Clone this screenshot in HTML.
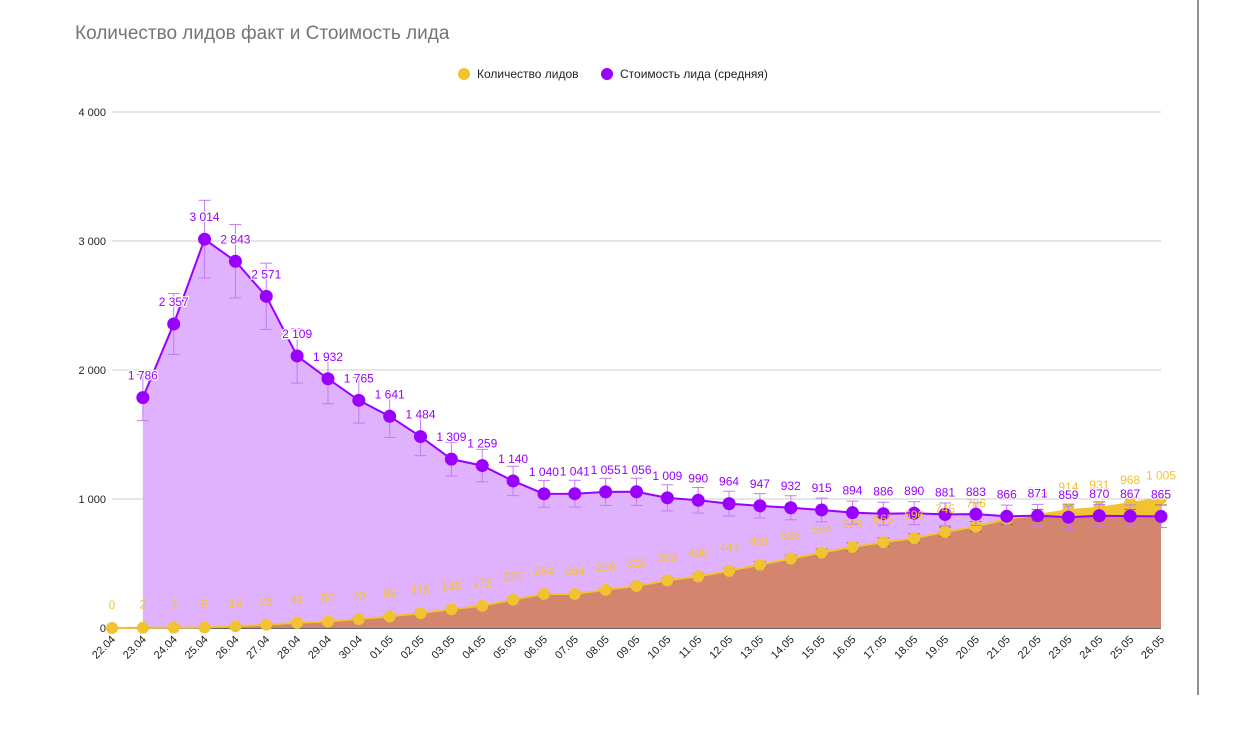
<!DOCTYPE html>
<html><head><meta charset="utf-8"><style>
body{margin:0;background:#fff;font-family:"Liberation Sans",sans-serif}
svg text{font-family:"Liberation Sans",sans-serif}
</style></head><body>
<svg width="1239" height="744" id="svg">
<rect width="1239" height="744" fill="#fff"/>
<text x="75" y="39" font-size="19" fill="#757575">Количество лидов факт и Стоимость лида</text>
<g font-size="12" fill="#222">
<g><circle cx="464" cy="74" r="6" fill="#f1c232"/><text x="477" y="78">Количество лидов</text></g>
<g><circle cx="607" cy="74" r="6" fill="#9900ff"/><text x="620" y="78">Стоимость лида (средняя)</text></g>
</g>
<line x1="1198" y1="0" x2="1198" y2="695" stroke="#222"/>
<g id="grid"></g><g id="areas"></g><g id="marks"></g><g id="labels"></g><g id="xaxis"></g>
</svg>
<script>
const categories=["22.04","23.04","24.04","25.04","26.04","27.04","28.04","29.04","30.04","01.05","02.05","03.05","04.05","05.05","06.05","07.05","08.05","09.05","10.05","11.05","12.05","13.05","14.05","15.05","16.05","17.05","18.05","19.05","20.05","21.05","22.05","23.05","24.05","25.05","26.05"];
const leads=[0,2,3,5,14,26,41,50,70,89,115,145,172,220,264,264,296,326,369,400,443,491,538,584,629,665,696,745,786,845,876,914,931,968,1005];
const cost=[null,1786,2357,3014,2843,2571,2109,1932,1765,1641,1484,1309,1259,1140,1040,1041,1055,1056,1009,990,964,947,932,915,894,886,890,881,883,866,871,859,870,867,865];
const yTicks=[0,1000,2000,3000,4000];
const yTickLabels=["0","1 000","2 000","3 000","4 000"];
const NS="http://www.w3.org/2000/svg";
const X0=112,X1=1161,Y0=628,YT=112,YMAX=4000;
const xs=i=>X0+(X1-X0)*i/(categories.length-1);
const ys=v=>Y0-(Y0-YT)*v/YMAX;
const fmt=v=>{const s=String(v);return s.length>3?s.slice(0,-3)+" "+s.slice(-3):s;};
function mk(tag,attrs,parent,txt){const e=document.createElementNS(NS,tag);for(const k in attrs)e.setAttribute(k,attrs[k]);if(txt!=null)e.textContent=txt;document.getElementById(parent).appendChild(e);return e;}
yTicks.forEach((t,i)=>{
 const l=mk("line",{x1:X0,x2:X1,y1:ys(t),y2:ys(t),stroke:t===0?"#333":"#ccc","stroke-width":t===0?1.5:1},"grid");
 
 
 const tx=mk("text",{x:106,y:ys(t)+4,"font-size":11,"text-anchor":"end",fill:"#222"},"grid",yTickLabels[i]);
 
 
});
// areas
const n=categories.length;
let pp="",yp="",ip="";
for(let i=1;i<n;i++){pp+=`${xs(i)},${ys(cost[i])} `;}
pp=`${xs(1)},${Y0} `+pp+`${xs(n-1)},${Y0}`;
for(let i=0;i<n;i++)yp+=`${xs(i)},${ys(leads[i])} `;
yp=`${xs(0)},${Y0} `+yp+`${xs(n-1)},${Y0}`;
for(let i=1;i<n;i++)ip+=`${xs(i)},${ys(Math.min(leads[i],cost[i]))} `;
ip=`${xs(1)},${Y0} `+ip+`${xs(n-1)},${Y0}`;
let a=mk("polygon",{points:pp,fill:"#e0b1fd"},"areas");


a=mk("polygon",{points:yp,fill:"#f1c232"},"areas");


a=mk("polygon",{points:ip,fill:"#d4856e"},"areas");


// lines
let lp="";for(let i=0;i<n;i++)lp+=`${xs(i)},${ys(leads[i])} `;
a=mk("polyline",{points:lp,fill:"none",stroke:"#f1c232","stroke-width":2},"marks");


let cp="";for(let i=1;i<n;i++)cp+=`${xs(i)},${ys(cost[i])} `;
a=mk("polyline",{points:cp,fill:"none",stroke:"#9900ff","stroke-width":2},"marks");


function ebar(x,v,f,col){const t=ys(v*(1+f)),b=ys(v*(1-f));
 mk("line",{x1:x,x2:x,y1:t,y2:b,stroke:col},"marks");
 mk("line",{x1:x-6,x2:x+6,y1:t,y2:t,stroke:col},"marks");
 mk("line",{x1:x-6,x2:x+6,y1:b,y2:b,stroke:col},"marks");}
for(let i=0;i<n;i++){
 if(leads[i]>0)ebar(xs(i),leads[i],0.05,"#a07a1a");
 const c=mk("circle",{cx:xs(i),cy:ys(leads[i]),r:6,fill:"#f1c232"},"marks");
 
 
 const t=mk("text",{x:xs(i),y:ys(leads[i])-19,"font-size":12,"text-anchor":"middle",fill:"#f1c232"},"labels",fmt(leads[i]));
 
 
}
for(let i=1;i<n;i++){
 ebar(xs(i),cost[i],0.1,"#c27bf5");
 const c=mk("circle",{cx:xs(i),cy:ys(cost[i]),r:6.5,fill:"#9900ff"},"marks");
 
 
 const t=mk("text",{x:xs(i),y:ys(cost[i])-18,"font-size":12,"text-anchor":"middle",fill:"#9900ff",stroke:"#fff","stroke-width":2.5,"paint-order":"stroke"},"labels",fmt(cost[i]));
 
 
}
categories.forEach((c,i)=>{
 const t=mk("text",{x:xs(i)+4,y:640,"font-size":11,"text-anchor":"end",fill:"#222",transform:`rotate(-45 ${xs(i)+4} 640)`},"xaxis",c);
 
 
});
</script>
</body></html>
